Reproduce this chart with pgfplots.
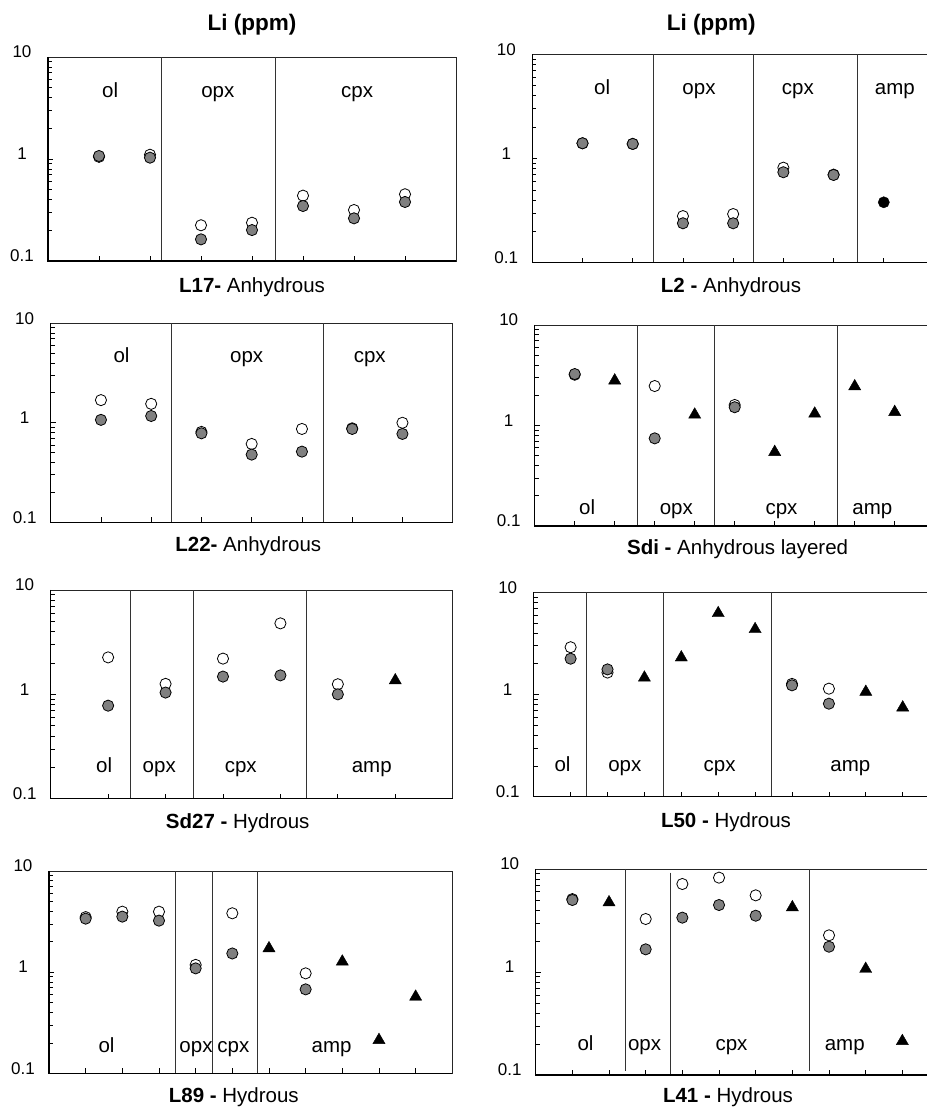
\documentclass[border=0pt]{standalone}
\usepackage{fontspec}
\setmainfont{Liberation Sans}
\usepackage{pgfplots}
\pgfplotsset{compat=1.18}
\newcommand\lbl{\fontsize{20.5}{24}\selectfont}
\newcommand\tickf{\fontsize{17}{20}\selectfont}
\newcommand\ttl{\fontsize{22.5}{26}\selectfont\bfseries}
\newcommand\PO{scale only axis, ymode=log, ymin=0.1, ymax=10, xmin=0,
    ytick={0.1,1,10}, yticklabels={0.1,1,10},
    minor ytick={0.2,0.3,0.4,0.5,0.6,0.7,0.8,0.9,2,3,4,5,6,7,8,9},
    xticklabels={},
    tick align=inside, xtick pos=left, ytick pos=left,
    major tick length=5pt, minor tick length=4pt,
    axis line style={line width=0.7pt, black!85},
    tick style={black, line width=0.7pt},
    yticklabel style={font=\noexpand\tickf, anchor=center, xshift=-26pt, yshift=5pt},
    clip=false}
\newcommand\panelaxis[1]{\edef\tmpax{\noexpand\begin{axis}[\PO,\unexpanded{#1}]}\tmpax}
\pgfplotsset{
  opn/.style={mark options={fill=white, draw=black, line width=0.8pt}, only marks, mark=*, mark size=5.6pt},
  gry/.style={mark options={fill=gray, draw=black, line width=0.8pt}, only marks, mark=*, mark size=5.6pt},
  blk/.style={mark options={fill=black, draw=black}, only marks, mark=*, mark size=5.6pt},
  tri/.style={mark options={fill=black, draw=black}, only marks, mark=triangle*, mark size=7pt},
}
\newcommand\divl[1]{\draw[line width=0.8pt, black!80] (axis cs:#1,0.1) -- (axis cs:#1,10);}
\newcommand\lab[3]{\node[font=\lbl, anchor=base] at (axis cs:#1,#2) {#3};}
\newcommand\frm{\draw[line width=1.5pt] (rel axis cs:0,1) -- (rel axis cs:0,0) -- (rel axis cs:1,0);}
\begin{document}
\begin{tikzpicture}
\path[use as bounding box] (0pt,0pt) rectangle (926pt,1107pt);
% ---------- P1 L17
\panelaxis{width=408pt, height=204pt, xmax=8, xtick={1,...,7}, at={(48pt,846pt)}, anchor=south west}
\addplot[opn] coordinates {(1,1.05) (2,1.10) (3,0.224) (4,0.237) (5,0.437) (6,0.316) (7,0.451)};
\addplot[gry] coordinates {(1,1.07) (2,1.03) (3,0.163) (4,0.201) (5,0.346) (6,0.262) (7,0.379)};
\divl{2.22}\divl{4.45}
\lab{1.22}{4.05}{ol}\lab{3.33}{4.05}{opx}\lab{6.06}{4.05}{cpx}
\frm
\end{axis}
% ---------- P2 L2
\panelaxis{width=401.7pt, height=208.4pt, xmax=8, xtick={1,...,7}, at={(532.3pt,844.3pt)}, anchor=south west}
\addplot[opn] coordinates {(1,1.40) (2,1.38) (3,0.28) (4,0.293) (5,0.816) (6,0.70)};
\addplot[gry] coordinates {(1,1.40) (2,1.38) (3,0.239) (4,0.239) (5,0.738) (6,0.695)};
\addplot[blk] coordinates {(7,0.380)};
\divl{2.41}\divl{4.40}\divl{6.47}
\lab{1.39}{4.07}{ol}\lab{3.32}{4.07}{opx}\lab{5.29}{4.07}{cpx}\lab{7.22}{4.07}{amp}
\frm
\end{axis}
% ---------- P3 L22
\panelaxis{width=402pt, height=199pt, xmax=8, xtick={1,...,7}, at={(50.7pt,584.7pt)}, anchor=south west}
\addplot[opn] coordinates {(1,1.69) (2,1.55) (3,0.81) (4,0.613) (5,0.867) (6,0.88) (7,1.00)};
\addplot[gry] coordinates {(1,1.07) (2,1.17) (3,0.784) (4,0.479) (5,0.513) (6,0.867) (7,0.773)};
\divl{2.41}\divl{5.43}
\lab{1.41}{4.03}{ol}\lab{3.9}{4.03}{opx}\lab{6.35}{4.03}{cpx}
\frm
\end{axis}
% ---------- P4 Sdi
\panelaxis{width=400pt, height=201pt, xmax=10, xtick={1,...,9}, at={(534.7pt,581pt)}, anchor=south west}
\addplot[opn] coordinates {(1,3.2) (3,2.47) (5,1.6)};
\addplot[gry] coordinates {(1,3.25) (3,0.745) (5,1.52)};
\addplot[tri] coordinates {(2,2.80) (4,1.28) (6,0.544) (7,1.31) (8,2.45) (9,1.36)};
\divl{2.57}\divl{4.5}\divl{7.56}
\lab{1.31}{0.131}{ol}\lab{3.54}{0.131}{opx}\lab{6.17}{0.131}{cpx}\lab{8.44}{0.131}{amp}
\frm
\end{axis}
% ---------- P5 Sd27
\panelaxis{width=402pt, height=208.7pt, xmax=7, xtick={1,...,6}, at={(50.7pt,308.3pt)}, anchor=south west}
\addplot[opn] coordinates {(1,2.26) (2,1.26) (3,2.20) (4,4.79) (5,1.25)};
\addplot[gry] coordinates {(1,0.779) (2,1.04) (3,1.48) (4,1.52) (5,1.0)};
\addplot[tri] coordinates {(6,1.36)};
\divl{1.38}\divl{2.48}\divl{4.46}
\lab{0.93}{0.178}{ol}\lab{1.89}{0.178}{opx}\lab{3.31}{0.178}{cpx}\lab{5.59}{0.178}{amp}
\frm
\end{axis}
% ---------- P6 L50
\panelaxis{width=405.9pt, height=204.4pt, xmax=11, xtick={1,...,10}, at={(533.7pt,310.3pt)}, anchor=south west}
\addplot[opn] coordinates {(1,2.90) (2,1.64) (7,1.27) (8,1.14)};
\addplot[gry] coordinates {(1,2.24) (2,1.76) (7,1.23) (8,0.813)};
\addplot[tri] coordinates {(3,1.46) (4,2.30) (5,6.24) (6,4.35) (9,1.06) (10,0.745)};
\divl{1.44}\divl{3.52}\divl{6.44}
\lab{0.78}{0.176}{ol}\lab{2.47}{0.176}{opx}\lab{5.04}{0.176}{cpx}\lab{8.58}{0.176}{amp}
\frm
\end{axis}
% ---------- P7 L89
\panelaxis{width=403.3pt, height=202.3pt, xmax=11, xtick={1,...,10}, at={(49pt,33.7pt)}, anchor=south west}
\addplot[opn] coordinates {(1,3.5) (2,3.96) (3,3.96) (4,1.18) (5,3.82) (7,0.973)};
\addplot[gry] coordinates {(1,3.38) (2,3.54) (3,3.23) (4,1.09) (5,1.53) (7,0.676)};
\addplot[tri] coordinates {(6,1.72) (8,1.27) (9,0.213) (10,0.571)};
\divl{3.46}\divl{4.47}\divl{5.69}
\lab{1.57}{0.16}{ol}\lab{4.01}{0.16}{opx}\lab{5.03}{0.16}{cpx}\lab{7.71}{0.16}{amp}
\frm
\end{axis}
% ---------- P8 L41
\panelaxis{width=403.3pt, height=206pt, xmax=11, xtick={1,...,10}, at={(535.7pt,32pt)}, anchor=south west}
\addplot[opn] coordinates {(1,5.1) (3,3.27) (4,7.15) (5,8.24) (6,5.55) (8,2.27)};
\addplot[gry] coordinates {(1,5.0) (3,1.66) (4,3.37) (5,4.47) (6,3.52) (8,1.76)};
\addplot[tri] coordinates {(2,4.74) (7,4.24) (9,1.07) (10,0.213)};
\draw[line width=0.8pt, black!80] (axis cs:2.44,10) -- (axis cs:2.44,0.11);
\draw[line width=0.8pt, black!80] (axis cs:3.67,9.2) -- (axis cs:3.67,0.1);
\draw[line width=0.8pt, black!80] (axis cs:7.47,10) -- (axis cs:7.47,0.11);
\lab{1.36}{0.172}{ol}\lab{2.97}{0.172}{opx}\lab{5.34}{0.172}{cpx}\lab{8.43}{0.172}{amp}
\frm
\end{axis}
% ---------- titles and captions
\node[anchor=base, font=\ttl] at (252pt,1076pt) {Li (ppm)};
\node[anchor=base, font=\ttl] at (711.3pt,1076pt) {Li (ppm)};
\node[anchor=base, font=\lbl] at (252pt,814pt) {\textbf{L17-} Anhydrous};
\node[anchor=base, font=\lbl] at (731pt,814pt) {\textbf{L2 -} Anhydrous};
\node[anchor=base, font=\lbl] at (248.3pt,555pt) {\textbf{L22-} Anhydrous};
\node[anchor=base, font=\lbl] at (737.6pt,552pt) {\textbf{Sdi -} Anhydrous layered};
\node[anchor=base, font=\lbl] at (237.7pt,278pt) {\textbf{Sd27 -} Hydrous};
\node[anchor=base, font=\lbl] at (726pt,279pt) {\textbf{L50 -} Hydrous};
\node[anchor=base, font=\lbl] at (233.8pt,5pt) {\textbf{L89 -} Hydrous};
\node[anchor=base, font=\lbl] at (728pt,5pt) {\textbf{L41 -} Hydrous};
\end{tikzpicture}
\end{document}
